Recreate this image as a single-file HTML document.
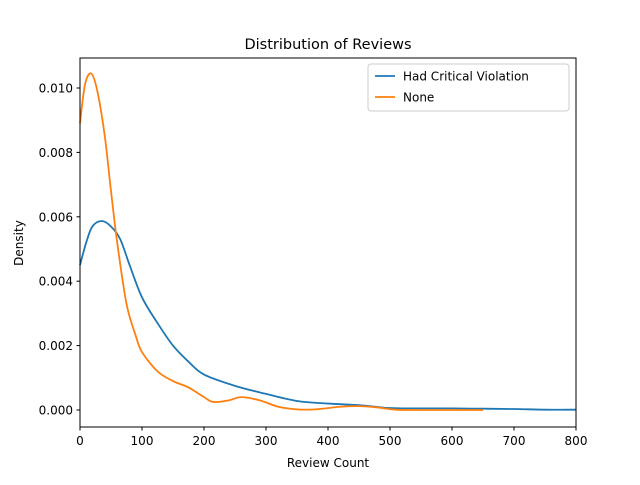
<!DOCTYPE html>
<html><head><meta charset="utf-8"><style>
body{margin:0;background:#fff;font-family:"Liberation Sans","DejaVu Sans",sans-serif}
</style></head><body>
<svg id="c" width="640" height="480" xmlns="http://www.w3.org/2000/svg" font-family="DejaVu Sans, Liberation Sans, sans-serif">
<rect width="640" height="480" fill="#fff"/>
<text x="328" y="49" font-size="14.5" text-anchor="middle">Distribution of Reviews</text>
<g id="plot"></g>
<rect x="80" y="58" width="496" height="369" fill="none" stroke="#000" stroke-width="1"/>
<text x="328" y="467" font-size="12" text-anchor="middle">Review Count</text>
<text transform="translate(23,243) rotate(-90)" font-size="12" text-anchor="middle">Density</text>
<g>
<rect x="368" y="64" width="201" height="47" rx="3" fill="#fff" stroke="#ccc"/>
<line x1="375" y1="76" x2="395" y2="76" stroke="#1f77b4" stroke-width="1.8"/>
<text x="403" y="80.5" font-size="12">Had Critical Violation</text>
<line x1="375" y1="97" x2="395" y2="97" stroke="#ff7f0e" stroke-width="1.8"/>
<text x="403" y="101.5" font-size="12">None</text>
</g>
</svg>
<script>
const xTicks=[0,100,200,300,400,500,600,700,800];
const yTicks=[0,0.002,0.004,0.006,0.008,0.010];
const yTickLabels=["0.000","0.002","0.004","0.006","0.008","0.010"];
const critX=[0,10,20,35,50,65,80,100,125,150,175,200,250,300,350,400,450,500,550,600,650,700,750,800];
const critY=[0.0045,0.0052,0.0057,0.00587,0.0057,0.0053,0.0045,0.0035,0.0027,0.0020,0.0015,0.0011,0.00075,0.0005,0.00028,0.0002,0.00015,0.00006,0.00005,0.00005,0.00004,0.00003,0.00001,0.00001];
const noneX=[0,8,18,28,40,50,60,75,90,100,125,150,175,200,215,240,260,290,320,350,380,420,450,480,510,560,600,650];
const noneY=[0.0089,0.0101,0.01045,0.0099,0.0085,0.0068,0.0052,0.0033,0.0023,0.0018,0.0012,0.0009,0.0007,0.0004,0.00025,0.0003,0.0004,0.0003,0.0001,0.00002,0.00002,0.0001,0.00012,0.00008,0.00001,0,0,0];
const X=v=>80+v*0.62, Y=v=>410-v*32200;
const NS="http://www.w3.org/2000/svg";
const g=document.getElementById('plot');
function mk(t,a){const e=document.createElementNS(NS,t);for(const k in a)e.setAttribute(k,a[k]);return e;}
xTicks.forEach(t=>{
 const l=mk('line',{x1:X(t),x2:X(t),y1:427,y2:430.5,stroke:'#000'});
 
 
 g.appendChild(l);
 const s=mk('text',{x:X(t),y:445,'font-size':12,'text-anchor':'middle'});s.textContent=t;
 
 
 g.appendChild(s);
});
yTicks.forEach((t,i)=>{
 const l=mk('line',{x1:76.5,x2:80,y1:Y(t),y2:Y(t),stroke:'#000'});
 
 
 g.appendChild(l);
 const s=mk('text',{x:73,y:Y(t)+4.5,'font-size':12,'text-anchor':'end'});s.textContent=yTickLabels[i];
 
 
 g.appendChild(s);
});
function path(xs,ys){
 const p=xs.map((x,i)=>[X(x),Y(ys[i])]);
 let d='M'+p[0][0]+','+p[0][1];
 for(let i=0;i<p.length-1;i++){
  const p0=p[i-1]||p[i],p1=p[i],p2=p[i+1],p3=p[i+2]||p2;
  const c1=[p1[0]+(p2[0]-p0[0])/6,p1[1]+(p2[1]-p0[1])/6];
  const c2=[p2[0]-(p3[0]-p1[0])/6,p2[1]-(p3[1]-p1[1])/6];
  d+=`C${c1[0]},${c1[1]} ${c2[0]},${c2[1]} ${p2[0]},${p2[1]}`;
 }
 return d;
}
const a=mk('path',{d:path(critX,critY),fill:'none',stroke:'#1f77b4','stroke-width':1.8});


g.appendChild(a);
const b=mk('path',{d:path(noneX,noneY),fill:'none',stroke:'#ff7f0e','stroke-width':1.8});


g.appendChild(b);
</script>
</body></html>
